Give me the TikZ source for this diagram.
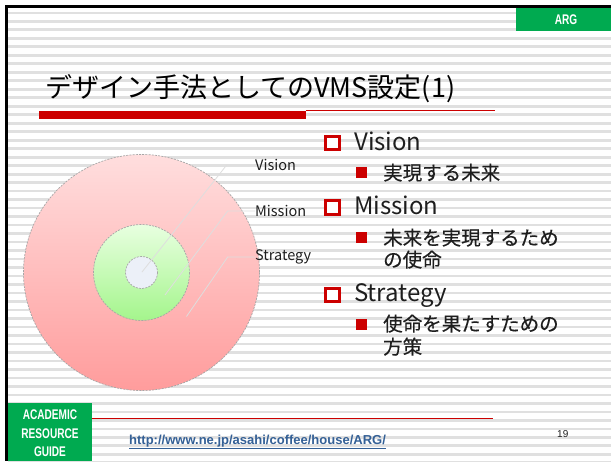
\documentclass[tikz,border=0pt]{standalone}
\usepackage{fontspec}
\setmainfont{Noto Sans CJK JP}
\newfontfamily\jpmed[FakeBold=0.4]{Noto Sans CJK JP}
\newfontfamily\arial{Liberation Sans}
\newfontfamily\cond[FakeStretch=0.72]{Liberation Sans}
\definecolor{slidered}{RGB}{204,0,0}
\definecolor{argreen}{RGB}{0,170,80}
\definecolor{stripegray}{RGB}{224,224,224}
\definecolor{urlblue}{RGB}{52,96,150}
\definecolor{pinktop}{RGB}{255,222,222}
\definecolor{pinkbot}{RGB}{255,156,156}
\definecolor{greentop}{RGB}{232,255,224}
\definecolor{greenbot}{RGB}{164,245,140}
\definecolor{corecol}{RGB}{236,240,248}
\definecolor{leadgray}{RGB}{222,222,222}
\definecolor{textdark}{RGB}{30,30,30}
\tikzset{
  ring/.style={draw=gray!70, line width=0.7pt, dash pattern=on 2pt off 1.2pt},
  leader/.style={draw=leadgray, line width=0.8pt},
  circlabel/.style={anchor=west, inner sep=0pt, font=\fontsize{14.5}{16}\selectfont, text=textdark},
  hollowbox/.style={draw=slidered, line width=2.6pt, fill=white, minimum size=13.5pt, inner sep=0pt},
  fullbox/.style={fill=slidered, minimum size=11pt, inner sep=0pt},
  lvlone/.style={anchor=base west, inner sep=0pt, font=\fontsize{24}{28}\selectfont, text=textdark},
  lvltwo/.style={anchor=base west, inner sep=0pt, font=\jpmed\fontsize{19.5}{22}\selectfont, text=textdark},
  greenbox/.style={fill=argreen, draw=none},
  boxtext/.style={text=white, font=\cond\bfseries\fontsize{14}{18.5}\selectfont, align=center, inner sep=0pt},
}
\begin{document}
\begin{tikzpicture}[x=1pt,y=-1pt]
\useasboundingbox (0,0) rectangle (611,461);
\fill[white] (0,0) rectangle (611,461);
% stripes
\foreach \i in {0,...,53} {
  \pgfmathsetmacro\yy{11.5+8.49*\i}
  \fill[stripegray] (8,\yy) rectangle (611,\yy+2.7);
}
% frame
\fill[black] (5,5) rectangle (611,7.8);
\fill[black] (5,5) rectangle (7.8,461);
% ARG box
\fill[greenbox] (516,8.3) rectangle (611,30.7);
\node[boxtext] (arg) at (566,19.5) {ARG};
% title
\node[anchor=base west, inner sep=0pt, font=\fontsize{27}{30}\selectfont, text=black] (title) at (45,97) {デザイン手法としてのVMS設定(1)};
\fill[slidered] (39,110.5) rectangle (306,118.7);
\fill[slidered] (306,110) rectangle (495,111.2);
% circles
\coordinate (c) at (141.5,272.5);
\shade[top color=pinktop, bottom color=pinkbot] (c) circle (118);
\draw[ring] (c) circle (118);
\shade[top color=greentop, bottom color=greenbot] (c) circle (48);
\draw[ring] (c) circle (48);
\fill[corecol] (c) circle (16);
\draw[ring] (c) circle (16);
% leaders and labels
\node[circlabel] (lv) at (255,165) {Vision};
\node[circlabel] (lm) at (255,211) {Mission};
\node[circlabel] (ls) at (255,257) {Strategy};
\coordinate (pv) at (142,272);
\coordinate (pm) at (165,295);
\coordinate (ps) at (186.5,316.5);
\draw[leader] (pv) -- (226.7,165) -- (lv.west);
\draw[leader] (pm) -- (227.7,211) -- (lm.west);
\draw[leader] (ps) -- (227.7,257) -- (ls.west);
% bullets
\node[hollowbox] (b1) at (332.5,143) {};
\node[lvlone] (t1) at (354,150) {Vision};
\node[fullbox] (s1) at (361,172.7) {};
\node[lvltwo] (u1) at (383,180) {実現する未来};
\node[hollowbox] (b2) at (332.5,207.5) {};
\node[lvlone] (t2) at (354,214.3) {Mission};
\node[fullbox] (s2) at (361,237.7) {};
\node[lvltwo] (u2) at (383,245) {未来を実現するため};
\node[lvltwo] (u2b) at (383,267) {の使命};
\node[hollowbox] (b3) at (332.5,295) {};
\node[lvlone] (t3) at (354,301.7) {Strategy};
\node[fullbox] (s3) at (361,324.3) {};
\node[lvltwo] (u3) at (383,331) {使命を果たすための};
\node[lvltwo] (u3b) at (383,354) {方策};
% footer
\fill[greenbox] (7.8,402.7) rectangle (92,461);
\node[boxtext] (acad) at (50,433.5) {ACADEMIC\\RESOURCE\\GUIDE};
\fill[slidered] (92,417.8) rectangle (493,418.9);
\node[anchor=base west, inner sep=0pt, font=\arial\bfseries\fontsize{13}{15}\selectfont, text=urlblue] (url) at (129,444) {\underline{http://www.ne.jp/asahi/coffee/house/ARG/}};
\node[anchor=base west, inner sep=0pt, font=\arial\fontsize{10}{12}\selectfont, text=textdark] (pg) at (557,437) {19};
\end{tikzpicture}
\end{document}
